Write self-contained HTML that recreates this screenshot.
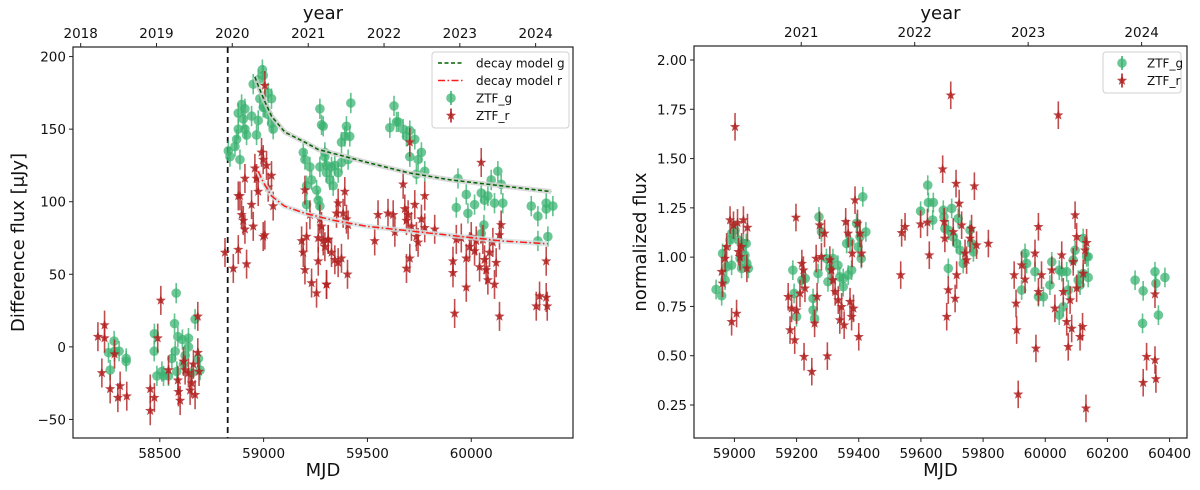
<!DOCTYPE html>
<html><head><meta charset="utf-8">
<style>
html,body{margin:0;padding:0;background:#fff;}
svg{display:block;font-family:"DejaVu Sans","Liberation Sans",sans-serif;}
</style></head>
<body>
<svg id="fig" width="1200" height="490" viewBox="0 0 1200 490" xmlns="http://www.w3.org/2000/svg"></svg>
<script>
// ---------- LEFT PANEL DATA ----------
const gMjdL = [58280,58253,58282,58304,58261,58338,58338,58474,58473,58486,58510,58542,58558,58574,58579,58571,58587,58609,58638,58638,58622,58614,58686,58694,58670,58654,58582,58518,
58830,58838,58862,58870,58886,58878,58910,58878,58894,58910,58902,58918,58942,58966,58974,58950,58974,58994,58998,58982,59006,59022,59038,59038,59046,59022,58998,59191,59199,59223,59271,59279,59271,59231,59207,59255,59263,59295,59303,59271,59207,
59287,59295,59303,59319,59335,59343,59359,59375,59391,59399,59415,59420,59407,59375,59327,59608,59628,59640,59648,59672,59688,59704,59728,59744,59760,59776,59736,59704,59936,59928,59976,59984,60016,60048,60064,60080,60096,60112,60128,60144,60152,60061,60048,60289,60321,60321,60361,60369,60393,60361];
const gFluxL = [4,-4,-3,-3,-16,-8,-10,9,-3,-20,-17,-20,-8,-3,37,16,7,5,6,0,-6,-12,-8,-16,19,-18,-17,-20,
135,131,138,143,129,150,150,161,167,164,157,146,159,146,156,181,184,191,187,171,165,175,171,154,150,160,165,134,129,124,164,153,124,115,111,108,101,131,120,97,98,
152,134,125,115,111,125,120,141,145,152,145,168,129,127,124,151,166,155,155,150,145,149,143,129,134,121,119,131,116,96,105,92,98,106,101,104,115,99,121,112,99,84,78,97,90,73,99,76,97,95];
const rMjdL = [58202,58234,58234,58282,58221,58261,58298,58309,58341,58454,58454,58474,58490,58505,58542,58587,58598,58590,58614,58638,58646,58654,58670,58683,58683,58689,58622,58662,
58814,58854,58878,58918,58878,58886,58894,58902,58910,58910,58942,58950,58998,59006,58958,58966,58974,58990,58998,59014,59022,59038,59046,59006,59183,59191,59199,59231,59255,59199,59207,59223,59263,59271,59303,59263,59287,59311,
59279,59295,59311,59327,59343,59359,59375,59383,59391,59399,59407,59359,59351,59303,59404,59535,59551,59599,59624,59632,59672,59680,59688,59696,59704,59712,59688,59704,59728,59736,59744,59760,59776,59776,59824,59912,59912,59920,59928,59952,59976,59976,59992,60000,60016,60024,60040,60048,60056,60064,60072,60080,60088,60104,60112,60120,60136,60144,60136,60313,60329,60361,60366,60361];
const rFluxL = [7,15,6,-5,-18,-29,-35,-27,-34,-29,-44,-35,6,32,-16,-23,-37,-31,-10,-18,-30,-25,-33,21,-4,-17,-16,-12,
65,54,67,57,104,104,91,87,81,116,98,83,76,77,123,116,107,134,129,125,110,118,97,180,73,65,53,44,37,108,76,91,75,88,43,59,73,74,
83,69,74,65,60,58,61,92,107,88,84,99,92,43,50,73,91,92,91,79,112,95,87,91,141,83,54,61,98,76,72,88,104,82,81,59,51,23,74,75,61,41,69,76,66,73,55,127,74,60,53,46,65,72,43,58,77,84,21,28,35,34,28,59];
const modelGMjd = [58958,58974,59000,59038,59102,59199,59263,59343,59500,59696,59900,60144,60385];
const modelGFlux = [186,180,171,159,148,141,136,133,127,120,115,111,107];
const modelRMjd = [58974,59000,59038,59100,59199,59343,59500,59760,59950,60144,60369];
const modelRFlux = [121,113,104,97,92,87,83,79,76,73,71];
const errG = 7, errR = 10;
const refMjd = 58827;
const leftXTicks = [58500,59000,59500,60000];
const leftYTicks = [-50,0,50,100,150,200];
const yearLabels = ["2018","2019","2020","2021","2022","2023","2024"];
const yearMjd = [58119,58484,58849,59215,59580,59945,60310];

// ---------- RIGHT PANEL DATA ----------
const gMjdR = [58941,58959,58962,58970,58975,58986,58991,58991,59002,59013,59018,59023,59029,59034,59040,59045,59038,59188,59192,59200,59217,59228,59253,59253,59258,59269,59272,59280,59296,59301,59307,59317,59333,59339,59350,59350,59361,59366,59372,59377,59393,59398,59408,59413,59423,59404,
59599,59622,59624,59640,59638,59672,59674,59677,59688,59699,59704,59688,59715,59720,59726,59736,59758,59763,59769,59935,59940,59924,59967,59978,59994,60015,60021,60045,60053,60045,60058,60069,60074,60090,60096,60106,60112,60122,60122,60133,60138,60138,60289,60313,60315,60353,60356,60364,60385];
const gFluxR = [0.836,0.804,1.019,0.883,0.951,1.086,0.959,1.120,1.137,1.086,0.993,0.943,1.069,1.010,0.968,0.943,1.069,0.934,0.816,0.698,0.883,0.892,0.731,0.790,0.689,0.917,1.204,1.128,0.993,0.875,0.943,0.993,0.959,0.900,0.892,0.850,1.069,0.909,1.078,0.934,1.171,1.052,0.993,1.306,1.128,1.103,
1.233,1.365,1.277,1.277,1.188,1.238,1.204,1.145,1.137,1.247,1.103,0.943,1.069,1.196,1.035,0.968,1.137,1.069,1.027,1.019,0.968,0.833,0.926,0.799,0.799,0.858,0.976,0.934,0.926,0.706,0.748,0.926,0.833,0.985,1.035,0.883,0.858,1.095,0.917,1.002,1.002,0.897,0.883,0.664,0.829,0.926,0.867,0.706,0.897];
const rMjdR = [58959,58962,58970,58975,58986,58991,59002,59007,58997,59010,59013,59018,59023,59029,59040,59042,59179,59173,59184,59194,59198,59200,59211,59217,59222,59224,59227,59249,59258,59263,59266,59274,59280,59290,59299,59307,59312,59317,59324,59334,59339,59345,59353,59358,59366,59372,59377,59383,59379,59388,59396,59400,59404,59409,
59535,59538,59549,59599,59621,59627,59670,59683,59688,59675,59677,59704,59713,59715,59710,59723,59731,59742,59747,59758,59763,59772,59779,59696,59817,59900,59906,59908,59913,59924,59935,59970,59978,59967,59978,59988,60021,60031,60042,60053,60058,60069,60074,60080,60085,60090,60096,60101,60101,60112,60120,60122,60128,60133,60131,60315,60326,60353,60356,60353];
const rFluxR = [0.926,0.867,0.993,1.052,1.188,0.672,1.661,0.714,1.162,1.174,1.027,1.002,1.052,1.188,0.943,1.150,0.630,0.799,0.740,0.579,1.201,0.731,0.816,0.967,0.934,0.495,0.842,0.419,0.664,0.993,0.799,1.162,1.002,1.120,0.498,0.985,0.934,0.883,0.824,0.782,0.681,0.748,0.655,1.179,1.120,0.774,0.698,0.740,1.019,1.289,1.171,0.596,1.120,1.019,
0.909,1.123,1.154,1.167,1.176,1.010,1.446,0.698,0.833,1.179,1.095,1.128,1.373,0.909,0.790,1.272,1.162,1.019,0.985,1.095,1.145,1.360,1.061,1.821,1.069,0.909,0.765,0.630,0.304,0.959,0.887,0.537,1.154,1.019,0.824,0.909,0.934,0.740,1.720,1.010,0.824,0.672,0.545,0.782,0.638,0.976,1.213,1.103,0.842,0.596,0.647,0.917,1.035,1.073,0.233,0.363,0.495,0.478,0.382,0.812];
const errGR = 0.05, errRR = 0.07;
const rightXTicks = [59000,59200,59400,59600,59800,60000,60200,60400];
const rightYTicks = [0.25,0.50,0.75,1.00,1.25,1.50,1.75,2.00];

// ---------- DRAWING ----------
const NS = "http://www.w3.org/2000/svg";
const svg = document.getElementById('fig');
function mk(tag, attrs, parent){
  const e = document.createElementNS(NS, tag);
  for (const k in attrs) e.setAttribute(k, attrs[k]);
  (parent||svg).appendChild(e);
  return e;
}
function lin(d0,d1,r0,r1){ return v => r0 + (v-d0)*(r1-r0)/(d1-d0); }
function fmtNum(v, dec){ const s = v.toFixed(dec); return s.replace('-', '\u2212'); }
function starPath(cx, cy, R){
  const r = R*0.42; let d = '';
  for (let i=0;i<10;i++){
    const a = -Math.PI/2 + i*Math.PI/5;
    const rr = i%2 ? r : R;
    d += (i?'L':'M') + (cx+rr*Math.cos(a)).toFixed(2) + ' ' + (cy+rr*Math.sin(a)).toFixed(2);
  }
  return d + 'Z';
}
const GREEN = '#3cb371', RED = '#b22222';

function panel(cfg){
  const g = mk('g', {});
  
  
  const X = lin(cfg.xd[0], cfg.xd[1], cfg.L, cfg.R);
  const Y = lin(cfg.yd[0], cfg.yd[1], cfg.B, cfg.T);
  const clipId = cfg.name + '-clip';
  const cp = mk('clipPath', {id: clipId}, g);
  mk('rect', {x: cfg.L, y: cfg.T, width: cfg.R-cfg.L, height: cfg.B-cfg.T}, cp);
  const plot = mk('g', {'clip-path': 'url(#'+clipId+')'}, g);
  
  
  if (cfg.extra) cfg.extra(plot, X, Y);
  const gs = mk('g', {}, plot);
  
  
  cfg.gx.forEach((m,i) => {
    const x = X(m), y = Y(cfg.gy[i]);
    const e = mk('line', {x1:x, x2:x, y1:Y(cfg.gy[i]-cfg.ge), y2:Y(cfg.gy[i]+cfg.ge), stroke:GREEN, 'stroke-width':1.6, 'stroke-opacity':0.8}, gs);
    
    
    const c = mk('circle', {cx:x, cy:y, r:4.8, fill:GREEN, 'fill-opacity':0.75}, gs);
    
    
  });
  const rs = mk('g', {}, plot);
  
  
  cfg.rx.forEach((m,i) => {
    const x = X(m), y = Y(cfg.ry[i]);
    const e = mk('line', {x1:x, x2:x, y1:Y(cfg.ry[i]-cfg.re), y2:Y(cfg.ry[i]+cfg.re), stroke:RED, 'stroke-width':1.6, 'stroke-opacity':0.8}, rs);
    
    
    const s = mk('path', {d: starPath(x, y, 5.4), fill:RED, 'fill-opacity':0.85}, rs);
    
    
  });
  if (cfg.overlay) cfg.overlay(plot, X, Y);
  const fr = mk('rect', {x:cfg.L, y:cfg.T, width:cfg.R-cfg.L, height:cfg.B-cfg.T, fill:'none', stroke:'#222', 'stroke-width':1.2}, g);
  
  
  cfg.xt.forEach(t => {
    const x = X(t);
    mk('line', {x1:x, x2:x, y1:cfg.B, y2:cfg.B+4, stroke:'#222', 'stroke-width':1}, g);
    const tx = mk('text', {x:x, y:cfg.B+20, 'text-anchor':'middle', 'font-size':13.5, fill:'#111'}, g);
    tx.textContent = String(t);
    
    
  });
  cfg.yt.forEach(t => {
    const y = Y(t);
    mk('line', {x1:cfg.L-4, x2:cfg.L, y1:y, y2:y, stroke:'#222', 'stroke-width':1}, g);
    const tx = mk('text', {x:cfg.L-7, y:y+5, 'text-anchor':'end', 'font-size':13.5, fill:'#111'}, g);
    tx.textContent = fmtNum(t, cfg.ydec);
    
    
  });
  yearMjd.forEach((m,i) => {
    if (m < cfg.xd[0] || m > cfg.xd[1]) return;
    const x = X(m);
    mk('line', {x1:x, x2:x, y1:cfg.T-4, y2:cfg.T, stroke:'#222', 'stroke-width':1}, g);
    const tx = mk('text', {x:x, y:cfg.T-9, 'text-anchor':'middle', 'font-size':13.5, fill:'#111'}, g);
    tx.textContent = yearLabels[i];
    
    
  });
  const cx = (cfg.L+cfg.R)/2;
  const xl = mk('text', {x:cx, y:476, 'text-anchor':'middle', 'font-size':18, fill:'#111'}, g);
  xl.textContent = 'MJD';
  
  
  const yl2 = mk('text', {x:cx, y:19, 'text-anchor':'middle', 'font-size':18, fill:'#111'}, g);
  yl2.textContent = 'year';
  
  
  const cy = (cfg.T+cfg.B)/2;
  const yl = mk('text', {x:cfg.ylabX, y:cy, 'text-anchor':'middle', 'font-size':18, fill:'#111', transform:'rotate(-90 '+cfg.ylabX+' '+cy+')'}, g);
  yl.textContent = cfg.ylabel;
  
  
  return g;
}

function modelLine(plot, X, Y, mx, my, color, dash, name, band){
  const pts = mx.map((m,i) => X(m).toFixed(1)+','+Y(my[i]).toFixed(1)).join(' ');
  const b = mk('polyline', {points:pts, fill:'none', stroke:band, 'stroke-width':5, 'stroke-opacity':0.8}, plot);
  
  
  const l = mk('polyline', {points:pts, fill:'none', stroke:color, 'stroke-width':1.5, 'stroke-dasharray':dash}, plot);
  
  
}

panel({
  name:'left-panel', L:73, R:573, T:47, B:438, xd:[58082,60490], yd:[-62.8,206.6],
  gx:gMjdL, gy:gFluxL, rx:rMjdL, ry:rFluxL, ge:errG, re:errR,
  xt:leftXTicks, yt:leftYTicks, ydec:0, ylabX:24, ylabel:'Difference flux [\u03bcJy]',
  extra:(plot,X,Y)=>{
    const x = X(refMjd);
    const l = mk('line', {x1:x, x2:x, y1:47, y2:438, stroke:'#111', 'stroke-width':1.8, 'stroke-dasharray':'6,4'}, plot);
    
    
  },
  overlay:(plot,X,Y)=>{
    modelLine(plot,X,Y,modelGMjd,modelGFlux,'#006400','4,2.5','decay-model-g','#cfcfcf');
    modelLine(plot,X,Y,modelRMjd,modelRFlux,'#ff1a1a','7,2.5,1.5,2.5','decay-model-r','#cfe0e0');
  }
});
panel({
  name:'right-panel', L:694, R:1187, T:46, B:438, xd:[58870,60456], yd:[0.0826,2.071],
  gx:gMjdR, gy:gFluxR, rx:rMjdR, ry:rFluxR, ge:errGR, re:errRR,
  xt:rightXTicks, yt:rightYTicks, ydec:2, ylabX:646, ylabel:'normalized flux'
});

function legend(x, y, w, entries, name){
  const g = mk('g', {});
  
  
  mk('rect', {x:x, y:y, width:w, height:entries.length*17.5+6, rx:3, fill:'#fff', 'fill-opacity':0.85, stroke:'#d0d0d0'}, g);
  entries.forEach((e,i) => {
    const cy = y + 11 + i*17.5;
    const eg = mk('g', {}, g);
    
    
    const sx = x + 6;
    if (e.type === 'line') {
      mk('line', {x1:sx, x2:sx+26, y1:cy, y2:cy, stroke:e.color, 'stroke-width':1.6, 'stroke-dasharray':e.dash}, eg);
    } else if (e.type === 'g') {
      mk('line', {x1:sx+13, x2:sx+13, y1:cy-7, y2:cy+7, stroke:GREEN, 'stroke-width':1.6}, eg);
      mk('circle', {cx:sx+13, cy:cy, r:4.8, fill:GREEN, 'fill-opacity':0.75}, eg);
    } else {
      mk('line', {x1:sx+13, x2:sx+13, y1:cy-7, y2:cy+7, stroke:RED, 'stroke-width':1.6}, eg);
      mk('path', {d:starPath(sx+13, cy, 5.4), fill:RED, 'fill-opacity':0.85}, eg);
    }
    const t = mk('text', {x:sx+38, y:cy+4.5, 'font-size':12, fill:'#111'}, eg);
    t.textContent = e.label;
  });
}
legend(432, 52, 137, [
  {type:'line', color:'#006400', dash:'4,2.5', label:'decay model g'},
  {type:'line', color:'#ff1a1a', dash:'7,2.5,1.5,2.5', label:'decay model r'},
  {type:'g', label:'ZTF_g'},
  {type:'r', label:'ZTF_r'}
], 'legend-left');
legend(1103, 52, 78, [
  {type:'g', label:'ZTF_g'},
  {type:'r', label:'ZTF_r'}
], 'legend-right');
</script>
</body></html>
